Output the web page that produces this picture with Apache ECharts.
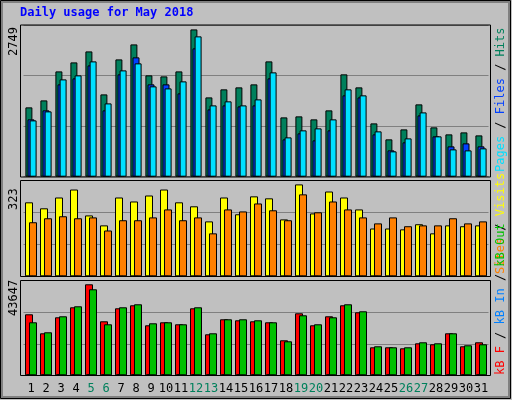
<!DOCTYPE html>
<html>
<head>
<meta charset="utf-8">
<script src="https://cdn.jsdelivr.net/npm/echarts@6/dist/echarts.min.js"></script>
<style>html,body{margin:0;padding:0;background:#c0c0c0}#main{width:512px;height:400px}</style>
</head>
<body>
<div id="main"></div>
<script>
var myChart = echarts.init(document.getElementById('main'));

var days = ['1','2','3','4','5','6','7','8','9','10','11','12','13','14','15','16',
'17','18','19','20','21','22','23','24','25','26','27','28','29','30','31'];
var weekend = ['5','6','12','13','19','20','26','27'];

var hits = [1294,1424,1965,2133,2338,1536,2189,2469,1891,1872,1965,2749,1480,1630,1667,1723,
2152,1107,1126,1070,1238,1910,1667,995,697,883,1350,921,790,827,771];
var files = [1070,1238,1723,1835,2077,1238,1910,2227,1723,1723,1555,2395,1256,1331,1312,1331,
1835,697,809,678,865,1518,1480,790,491,641,1144,753,566,622,566];
var pages = [1051,1219,1816,1891,2152,1368,1984,2115,1686,1648,1779,2619,1331,1406,1331,1443,
1947,734,865,902,1070,1630,1518,846,473,715,1200,753,510,491,529];

var visits = [260,239,277,305,214,179,277,263,284,305,260,246,193,277,218,281,
274,200,323,221,298,277,235,168,168,165,183,151,179,176,179];
var sites = [190,204,211,204,207,161,197,197,207,235,197,207,151,235,228,256,
232,197,288,225,263,235,207,186,207,176,179,179,204,186,193];

var kbF = [29262,20147,27823,32620,43647,25904,32140,33579,23985,25424,24465,32140,19668,26863,26384,25904,
25424,16790,29741,23985,28302,33579,30221,13432,13432,12952,15350,14871,20147,13911,15830];
var kbIn = [300,200,500,400,500,300,500,400,400,500,400,500,300,300,300,300,
500,300,300,300,300,500,300,300,300,300,300,300,300,300,300];
var kbOut = [25424,20627,28302,33099,41254,24465,32620,34059,24944,25424,24465,32620,20147,26863,26863,26384,
25424,16310,28782,24465,27823,34059,30701,13911,13432,13432,15830,15350,20147,14391,14871];

var FONT = 'DejaVu Sans Mono';
var F12 = '12px "DejaVu Sans Mono"';
var panels = [
    { top: 25, height: 151.7, max: 2831 },
    { top: 180.7, height: 95.6, max: 336 },
    { top: 280.7, height: 94.6, max: 45370 }
];

function bar(name, data, color, idx, width, gap) {
    return {
        name: name, type: 'bar', data: data, xAxisIndex: idx, yAxisIndex: idx,
        barWidth: width, barGap: gap, animation: false,
        itemStyle: { color: color, borderColor: '#000', borderWidth: 1 }
    };
}

function upText(x, y, text, rich) {
    return { type: 'text', x: x, y: y, rotation: Math.PI / 2,
        style: { text: text, fill: '#000', font: F12, align: 'left', verticalAlign: 'top', rich: rich } };
}

option = {
    backgroundColor: '#c0c0c0',
    grid: panels.map(function (p) {
        return { left: 23.5, right: 23.5, top: p.top, height: p.height };
    }),
    xAxis: panels.map(function (p, i) {
        return {
            type: 'category', data: days, gridIndex: i,
            axisLine: { show: false }, axisTick: { show: false },
            axisLabel: {
                show: i === 2, interval: 0, margin: 8,
                fontFamily: FONT, fontSize: 12,
                color: function (v) { return weekend.indexOf(v) >= 0 ? '#00805c' : '#000'; }
            }
        };
    }),
    yAxis: panels.map(function (p, i) {
        return {
            type: 'value', gridIndex: i, min: 0, max: p.max, interval: p.max / 3,
            axisLabel: { show: false }, axisLine: { show: false }, axisTick: { show: false },
            splitLine: { lineStyle: { color: '#808080', width: 1 } }
        };
    }),
    graphic: [
        { type: 'rect', shape: { x: 0.5, y: 0.5, width: 510, height: 398 },
          style: { fill: null, stroke: '#000', lineWidth: 1 } },
        { type: 'rect', shape: { x: 2, y: 2, width: 507, height: 395 },
          style: { fill: null, stroke: '#808080', lineWidth: 2 } },
        { type: 'text', left: 20, top: 7,
          style: { text: 'Daily usage for May 2018', fill: '#0000ff', font: 'bold 12px "DejaVu Sans Mono"' } },
        { type: 'rect', shape: { x: 20.5, y: 25, width: 470, height: 152 },
          style: { fill: null, stroke: '#000', lineWidth: 1 }, z: 10 },
        { type: 'rect', shape: { x: 20.5, y: 180.5, width: 470, height: 96 },
          style: { fill: null, stroke: '#000', lineWidth: 1 }, z: 10 },
        { type: 'rect', shape: { x: 20.5, y: 280.5, width: 470, height: 95 },
          style: { fill: null, stroke: '#000', lineWidth: 1 }, z: 10 },
        upText(8, 56, '2749'),
        upText(8, 210, '323'),
        upText(8, 316, '43647'),
        upText(495, 172, '{a|Pages} / {b|Files} / {c|Hits}', {
            a: { fill: '#00e0ff', font: F12 }, b: { fill: '#0040ff', font: F12 }, c: { fill: '#00805c', font: F12 } }),
        upText(495, 274, '{a|Sites} / {b|Visits}', {
            a: { fill: '#ff8000', font: F12 }, b: { fill: '#ffff00', font: F12 } }),
        upText(495, 375, '{a|kB F} / {b|kB In} / {c|kB Out}', {
            a: { fill: '#ff0000', font: F12 }, b: { fill: '#0080ff', font: F12 }, c: { fill: '#00c000', font: F12 } })
    ],
    series: [
        bar('Hits', hits, '#00805c', 0, 7, '-70%'),
        bar('Files', files, '#0040ff', 0, 7, '-70%'),
        bar('Pages', pages, '#00e0ff', 0, 7, '-70%'),
        bar('Visits', visits, '#ffff00', 1, 8, '-50%'),
        bar('Sites', sites, '#ff8000', 1, 8, '-50%'),
        bar('kB F', kbF, '#ff0000', 2, 8, '-75%'),
        bar('kB In', kbIn, '#0080ff', 2, 8, '-75%'),
        bar('kB Out', kbOut, '#00c000', 2, 8, '-75%')
    ]
};
myChart.setOption(option);
</script>
</body>
</html>
